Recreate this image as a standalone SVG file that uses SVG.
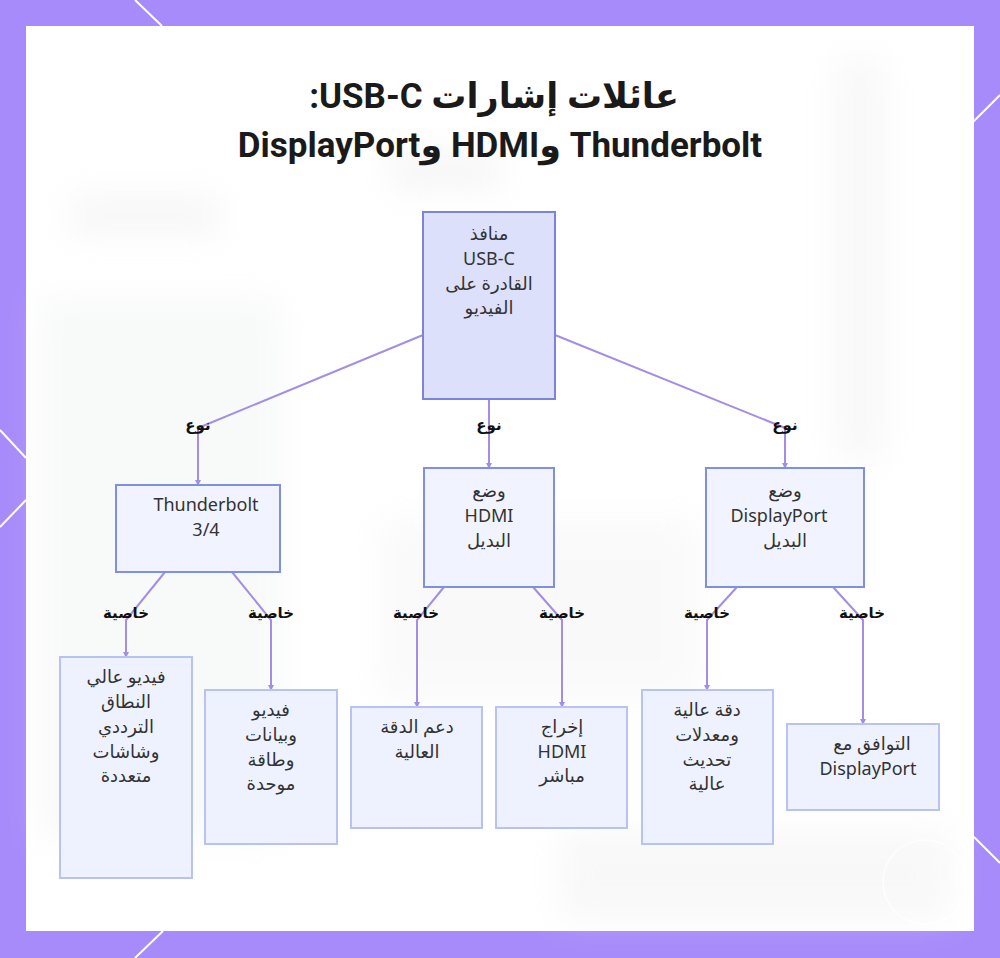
<svg xmlns="http://www.w3.org/2000/svg" width="1000" height="958" viewBox="0 0 1000 958">
<defs>
<style>
.frame{fill:#a78bfa}
.deco{stroke:#ffffff;stroke-width:2;fill:none}
.title{font-family:Roboto,"Noto Sans","DejaVu Sans",sans-serif;font-weight:700;font-size:35px;fill:#1a1a1a;text-anchor:middle}
.root rect{fill:#dde0fb;stroke:#7b83db;stroke-width:2}
.mid rect{fill:#f1f4fe;stroke:#7f90e3;stroke-width:2}
.leaf rect{fill:#eef2fe;stroke:#b9c3f1;stroke-width:2}
.nt{font-family:"Noto Sans","DejaVu Sans",sans-serif;font-size:18px;fill:#333333;text-anchor:middle}
.edge{stroke:#a48de6;stroke-width:2;fill:none;marker-end:url(#arr)}
.el{font-family:"Noto Sans","DejaVu Sans",sans-serif;font-size:15px;font-weight:700;fill:#111111;text-anchor:middle}
</style>
<marker id="arr" viewBox="0 0 6 6" refX="5" refY="3" markerWidth="3" markerHeight="3" orient="auto">
<path d="M0,0 L6,3 L0,6 z" fill="#a48de6"/>
</marker>
<filter id="blur" x="-20%" y="-20%" width="140%" height="140%"><feGaussianBlur stdDeviation="16"/></filter>
</defs>

<rect class="frame" x="0" y="0" width="1000" height="958"/>
<g class="deco">
<line x1="135" y1="0" x2="162" y2="26"/>
<line x1="973" y1="122" x2="1000" y2="95"/>
<line x1="0" y1="430" x2="26" y2="458"/>
<line x1="26" y1="500" x2="0" y2="527"/>
<line x1="163" y1="931" x2="135" y2="958"/>
<line x1="974" y1="837" x2="1000" y2="863"/>
</g>
<rect x="26" y="26" width="948" height="905" fill="#ffffff"/>
<g filter="url(#blur)" opacity="0.35">
<rect x="40" y="300" width="240" height="540" fill="#eceeee"/>
<rect x="835" y="60" width="50" height="400" fill="#ececec"/>
<rect x="390" y="150" width="110" height="40" fill="#e6e6e6"/>
<rect x="70" y="195" width="150" height="40" fill="#e8e8e8"/>
<rect x="380" y="520" width="320" height="180" fill="#f0f0f0"/>
<rect x="560" y="830" width="390" height="90" fill="#ececec"/>
</g>
<circle cx="925" cy="882" r="42" fill="none" stroke="#ffffff" stroke-width="1.5" opacity="0.8"/>

<text class="title" direction="rtl" x="494" y="108">عائلات إشارات USB-C:</text>
<text class="title" direction="rtl" x="500" y="157">Thunderbolt وHDMI وDisplayPort</text>

<g id="connectors">
<path class="edge" d="M423,335 L198,428 L198,485"/>
<path class="edge" d="M489,399 L489,468"/>
<path class="edge" d="M555,335 L785,428 L785,468"/>
<path class="edge" d="M165,572 L126,620 L126,657"/>
<path class="edge" d="M232,572 L271,620 L271,690"/>
<path class="edge" d="M444,587 L417,620 L417,707"/>
<path class="edge" d="M533,587 L562,620 L562,707"/>
<path class="edge" d="M737,587 L707,620 L707,690"/>
<path class="edge" d="M833,587 L863,620 L863,724"/>
<text class="el" x="198" y="430">نوع</text>
<text class="el" x="489" y="430">نوع</text>
<text class="el" x="785" y="430">نوع</text>
<text class="el" x="126" y="618">خاصية</text>
<text class="el" x="271" y="618">خاصية</text>
<text class="el" x="416" y="618">خاصية</text>
<text class="el" x="562" y="618">خاصية</text>
<text class="el" x="707" y="618">خاصية</text>
<text class="el" x="862" y="618">خاصية</text>
</g>

<g id="root" class="root">
<rect x="423" y="212" width="132" height="187"/>
<text class="nt" x="489" y="240">منافذ</text>
<text class="nt" x="489" y="265">USB-C</text>
<text class="nt" x="489" y="290">القادرة على</text>
<text class="nt" x="489" y="314">الفيديو</text>
</g>

<g id="thunderbolt" class="mid">
<rect x="116" y="485" width="164" height="87"/>
<text class="nt" x="206" y="511">Thunderbolt</text>
<text class="nt" x="206" y="536">3/4</text>
</g>

<g id="hdmi" class="mid">
<rect x="424" y="468" width="130" height="119"/>
<text class="nt" x="489" y="497">وضع</text>
<text class="nt" x="489" y="522">HDMI</text>
<text class="nt" x="489" y="547">البديل</text>
</g>

<g id="displayport" class="mid">
<rect x="706" y="468" width="158" height="119"/>
<text class="nt" x="785" y="497">وضع</text>
<text class="nt" x="779" y="522">DisplayPort</text>
<text class="nt" x="785" y="547">البديل</text>
</g>

<g id="leaf-tb-1" class="leaf">
<rect x="60" y="657" width="132" height="221"/>
<text class="nt" x="126" y="683">فيديو عالي</text>
<text class="nt" x="126" y="708">النطاق</text>
<text class="nt" x="126" y="733">الترددي</text>
<text class="nt" x="126" y="758">وشاشات</text>
<text class="nt" x="126" y="782">متعددة</text>
</g>

<g id="leaf-tb-2" class="leaf">
<rect x="205" y="690" width="132" height="154"/>
<text class="nt" x="271" y="716">فيديو</text>
<text class="nt" x="271" y="741">وبيانات</text>
<text class="nt" x="271" y="766">وطاقة</text>
<text class="nt" x="271" y="790">موحدة</text>
</g>

<g id="leaf-hdmi-1" class="leaf">
<rect x="351" y="707" width="131" height="121"/>
<text class="nt" x="417" y="733">دعم الدقة</text>
<text class="nt" x="417" y="758">العالية</text>
</g>

<g id="leaf-hdmi-2" class="leaf">
<rect x="496" y="707" width="131" height="121"/>
<text class="nt" x="562" y="733">إخراج</text>
<text class="nt" x="562" y="758">HDMI</text>
<text class="nt" x="562" y="782">مباشر</text>
</g>

<g id="leaf-dp-1" class="leaf">
<rect x="642" y="690" width="131" height="154"/>
<text class="nt" x="707" y="716">دقة عالية</text>
<text class="nt" x="707" y="741">ومعدلات</text>
<text class="nt" x="707" y="766">تحديث</text>
<text class="nt" x="707" y="790">عالية</text>
</g>

<g id="leaf-dp-2" class="leaf">
<rect x="787" y="724" width="152" height="86"/>
<text class="nt" x="872" y="750">التوافق مع</text>
<text class="nt" x="868" y="775">DisplayPort</text>
</g>
</svg>
